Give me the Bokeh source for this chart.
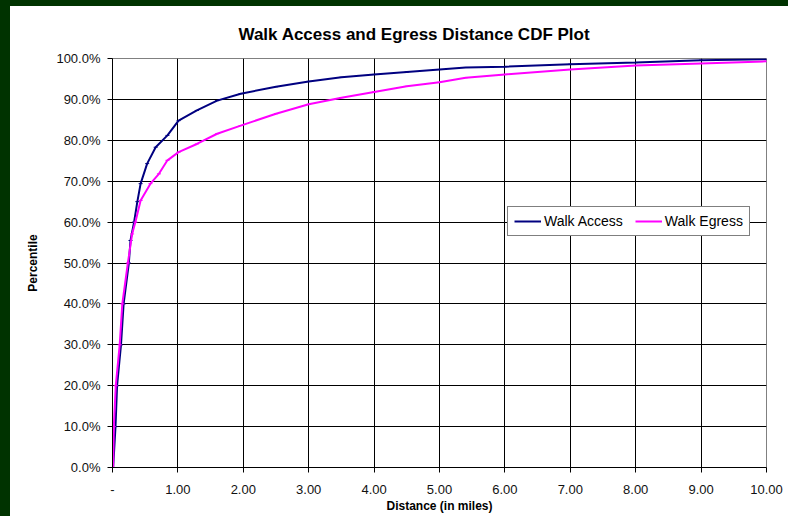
from bokeh.plotting import figure
from bokeh.layouts import column, row
from bokeh.models import (Range1d, FixedTicker, NumeralTickFormatter, Legend, LegendItem,
                          Spacer)
from bokeh.embed import file_html
from bokeh.resources import INLINE

# ---- data ----
access_dist = [0.01, 0.046, 0.07, 0.13, 0.17, 0.25, 0.275, 0.33, 0.38, 0.43, 0.53, 0.66,
               0.84, 1.01, 1.29, 1.6, 1.96, 2.5, 3.0, 3.5, 4.0, 4.5, 5.0, 5.4, 6.0, 7.0,
               8.0, 9.0, 10.0]
access_pct = [0.0, 0.10, 0.20, 0.30, 0.40, 0.50, 0.555, 0.60, 0.65, 0.694, 0.743, 0.783,
              0.812, 0.848, 0.873, 0.897, 0.914, 0.931, 0.944, 0.954, 0.961, 0.967, 0.973,
              0.978, 0.980, 0.986, 0.990, 0.996, 0.998]

egress_dist = [0.01, 0.02, 0.05, 0.11, 0.15, 0.235, 0.30, 0.35, 0.43, 0.58, 0.71, 0.84,
               1.01, 1.29, 1.6, 1.96, 2.5, 3.0, 3.5, 4.0, 4.5, 5.0, 5.4, 6.0, 7.0, 8.0,
               9.0, 10.0]
egress_pct = [0.0, 0.10, 0.20, 0.30, 0.40, 0.50, 0.571, 0.60, 0.653, 0.694, 0.718, 0.751,
              0.771, 0.791, 0.816, 0.836, 0.865, 0.888, 0.904, 0.918, 0.932, 0.942, 0.953,
              0.961, 0.973, 0.983, 0.988, 0.993]

x_ticks = [0, 1, 2, 3, 4, 5, 6, 7, 8, 9, 10]
y_ticks = [0.0, 0.1, 0.2, 0.3, 0.4, 0.5, 0.6, 0.7, 0.8, 0.9, 1.0]

title_text = "Walk Access and Egress Distance CDF Plot"
x_label = "Distance (in miles)"
y_label = "Percentile"
series_names = ["Walk Access", "Walk Egress"]
series_colors = ["#000080", "#FF00FF"]

FONT = "Liberation Sans"
FRAME_GREEN = "#003300"

p = figure(width=778, height=510, output_backend="svg", toolbar_location=None,
           x_range=Range1d(0, 10), y_range=Range1d(0, 1),
           min_border_left=102, min_border_right=22, min_border_top=52,
           min_border_bottom=49, background_fill_color="white",
           border_fill_color="white")

p.outline_line_color = "#808080"
p.outline_line_width = 1

# title
p.title.text = title_text
p.title.text_font = FONT
p.title.text_font_size = "17px"
p.title.text_font_style = "bold"
p.title.text_color = "black"
p.title.align = "left"
p.title.offset = 126
p.title.standoff = 29

# axes
for ax in (p.xaxis[0], p.yaxis[0]):
    ax.axis_line_color = "black"
    ax.major_tick_line_color = "black"
    ax.major_tick_out = 5
    ax.major_tick_in = 0
    ax.minor_tick_line_color = None
    ax.major_label_text_font = FONT
    ax.major_label_text_font_size = "13px"
    ax.major_label_text_color = "#111111"
    ax.axis_label_text_font = FONT
    ax.axis_label_text_font_size = "12px"
    ax.axis_label_text_font_style = "bold"
    ax.axis_label_text_color = "black"

p.xaxis.ticker = FixedTicker(ticks=x_ticks)
p.xaxis.formatter = NumeralTickFormatter(format="0.00")
p.xaxis.major_label_overrides = {0: "-"}
p.xaxis.axis_label = x_label
p.xaxis.major_label_standoff = 12
p.xaxis.axis_label_standoff = 2

p.yaxis.ticker = FixedTicker(ticks=y_ticks)
p.yaxis.formatter = NumeralTickFormatter(format="0.0%")
p.yaxis.axis_label = y_label
p.yaxis.major_label_standoff = 7
p.yaxis.axis_label_standoff = 13

# grid
p.xgrid.ticker = FixedTicker(ticks=x_ticks[1:-1])
p.ygrid.ticker = FixedTicker(ticks=y_ticks[1:-1])
p.xgrid.grid_line_color = "black"
p.ygrid.grid_line_color = "black"
p.xgrid.grid_line_width = 1
p.ygrid.grid_line_width = 1

# series
r1 = p.line(access_dist, access_pct, line_color=series_colors[0], line_width=2)
m1 = p.scatter(access_dist, access_pct, marker="dash", size=4, line_color=series_colors[0])
r2 = p.line(egress_dist, egress_pct, line_color=series_colors[1], line_width=2)
m2 = p.scatter(egress_dist, egress_pct, marker="dash", size=4, line_color=series_colors[1])

legend = Legend(items=[LegendItem(label=series_names[0], renderers=[r1, m1]),
                       LegendItem(label=series_names[1], renderers=[r2, m2])],
                orientation="horizontal", location=(395, 231))
legend.border_line_color = "black"
legend.border_line_width = 1
legend.background_fill_color = "white"
legend.background_fill_alpha = 1.0
legend.label_text_font = FONT
legend.label_text_font_size = "14px"
legend.label_text_color = "black"
legend.glyph_width = 27
legend.glyph_height = 12
legend.label_standoff = 3
legend.spacing = 12
legend.padding = 6
legend.margin = 0
legend.label_height = 12
p.add_layout(legend, "center")

top_bar = Spacer(width=788, height=6, styles={"background-color": FRAME_GREEN})
left_bar = Spacer(width=10, height=510, styles={"background-color": FRAME_GREEN})
page = column(top_bar, row(left_bar, p, spacing=0), spacing=0)

open("out.html", "w").write(file_html(page, INLINE))
